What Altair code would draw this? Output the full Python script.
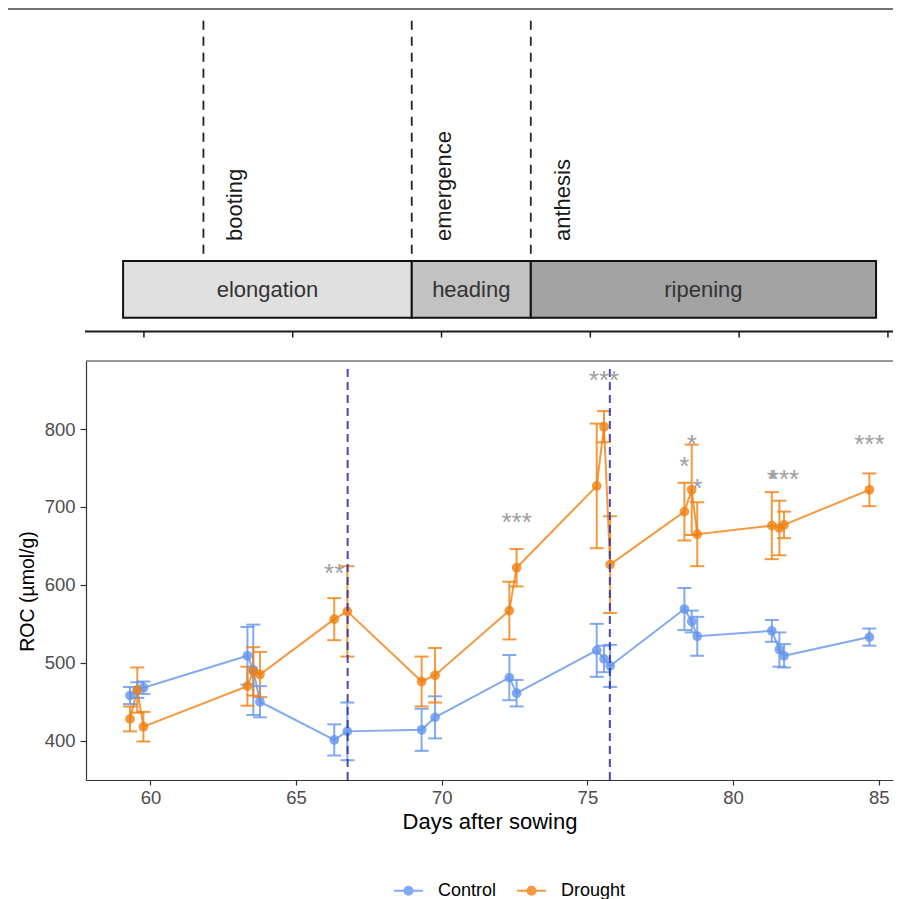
import altair as alt
import pandas as pd

# ---------------- data ----------------
days = [59.30, 59.55, 59.76, 63.33, 63.53, 63.76, 66.31, 66.76, 69.31, 69.77,
        72.32, 72.57, 75.32, 75.57, 75.78, 78.33, 78.58, 78.77, 81.33, 81.59, 81.75, 84.68]
control_mean = [458, 465, 468, 509, 491, 450, 401, 412, 414, 430, 481,
                461, 516, 505, 496, 569, 553, 534, 541, 517, 509, 533]
control_sd = [11, 10, 8, 37, 58, 20, 20, 37, 27, 27, 29,
              17, 34, 17, 27, 27, 14, 25, 14, 22, 15, 11]
drought_mean = [428, 465, 418, 470, 489, 485, 556, 566, 476, 484, 567,
                622, 727, 803, 626, 694, 722, 665, 676, 673, 677, 722]
drought_sd = [16, 29, 19, 25, 31, 29, 27, 58, 32, 35, 37,
              24, 80, 20, 62, 37, 58, 41, 43, 35, 17, 21]
treatments = ["Control", "Drought"]

sig_days = [66.31, 72.57, 75.57, 78.33, 78.58, 78.77, 81.33, 81.75, 84.68]
sig_labels = ["**", "***", "***", "*", "*", "*", "*", "***", "***"]
sig_values = [623, 689, 870, 760, 789, 732, 743, 743, 789]

marker_days = [66.77, 75.77]

stage_names = ["elongation", "heading", "ripening"]
stage_start = [59.3, 69.0, 73.0]
stage_end = [69.0, 73.0, 84.6]

event_names = ["booting", "emergence", "anthesis"]
event_days = [62.0, 69.0, 73.0]

top_ticks = [60, 65, 70, 75, 80, 85]
x_ticks = [60, 65, 70, 75, 80, 85]
y_ticks = [400, 500, 600, 700, 800]

# ---------------- styles ----------------
series_colors = ["#6495ED", "#F08010"]
stage_fills = ["#E0E0E0", "#C2C2C2", "#A3A3A3"]
FONT = "Liberation Sans"
W, H = 807, 772
SYMBOL = "M-1,0L1,0M0.28,0A0.28,0.28,0,1,1,-0.28,0A0.28,0.28,0,1,1,0.28,0Z"

rows = []
for t, means, sds in [("Control", control_mean, control_sd), ("Drought", drought_mean, drought_sd)]:
    for d, m, s in zip(days, means, sds):
        rows.append({"day": d, "mean": m, "lo": m - s, "hi": m + s, "Treatment": t})
df = pd.DataFrame(rows)
sig_df = pd.DataFrame({"day": sig_days, "label": sig_labels, "value": sig_values})
marker_df = pd.DataFrame({"day": marker_days})
stages = pd.DataFrame({"stage": stage_names, "start": stage_start, "end": stage_end})
events = pd.DataFrame({"event": event_names, "day": event_days})
ticks_df = pd.DataFrame({"tick": top_ticks})
one = pd.DataFrame({"k": [0]})

# ---------------- scales / axes ----------------
xb = alt.Scale(domain=[57.789, 85.49], nice=False, zero=False)
yb = alt.Scale(domain=[349.6, 887.3], nice=False, zero=False, range=[772, 353])
xt = alt.Scale(domain=[58.054, 85.17], nice=False, zero=False)
cs = alt.Scale(domain=treatments, range=series_colors)

x_axis = alt.Axis(values=x_ticks, title="Days after sowing", grid=False,
                  domainColor="#333333", domainWidth=1.2, tickColor="#333333",
                  tickWidth=1.2, tickSize=5, labelColor="#4D4D4D", labelFontSize=18.5,
                  labelPadding=3, labelFont=FONT, titleFont=FONT, titleFontSize=22,
                  titleFontWeight="normal", titleColor="black", titlePadding=5)
y_axis = alt.Axis(values=y_ticks, title="ROC (µmol/g)", grid=False,
                  domainColor="#333333", domainWidth=1.2, tickColor="#333333",
                  tickWidth=1.2, tickSize=6, labelColor="#4D4D4D", labelFontSize=18.5,
                  labelPadding=5, labelFont=FONT, titleFont=FONT, titleFontSize=19.5,
                  titleFontWeight="normal", titleColor="black",
                  titleX=-59, titleY=583, titleBaseline="middle", titleAlign="center")

legend = alt.Legend(title=None, orient="none", legendX=307, legendY=867,
                    direction="horizontal", symbolType=SYMBOL, symbolSize=841,
                    symbolStrokeWidth=2, symbolOpacity=0.8, labelFontSize=18,
                    labelColor="black", labelFont=FONT, labelOffset=14,
                    columnPadding=16)
color = alt.Color("Treatment:N", scale=cs, legend=legend)


def bx(f):
    return alt.X(f, scale=xb, axis=x_axis)


def by(f):
    return alt.Y(f, scale=yb, axis=y_axis)


def tx(f):
    return alt.X(f, scale=xt, axis=None)


# ---------------- bottom panel ----------------
lines = alt.Chart(df).mark_line(strokeWidth=2, opacity=0.8).encode(
    x=bx("day:Q"), y=by("mean:Q"), color=color, order="day:Q")
err = alt.Chart(df).mark_rule(strokeWidth=2, opacity=0.8).encode(
    x=bx("day:Q"), y=by("lo:Q"), y2="hi:Q", color=color)
caps = alt.Chart(df).transform_fold(["lo", "hi"], as_=["end", "val"]).mark_rule(
    strokeWidth=2, opacity=0.8, xOffset=-7, x2Offset=7).encode(
    x=bx("day:Q"), x2="day:Q", y=by("val:Q"), color=color)
points = alt.Chart(df).mark_point(filled=True, size=95, opacity=0.8).encode(
    x=bx("day:Q"), y=by("mean:Q"), color=color)
vlines = alt.Chart(marker_df).mark_rule(color="#3535A8", strokeDash=[8, 5], strokeWidth=2,
                                        opacity=0.9).encode(
    x=bx("day:Q"), y=alt.value(361), y2=alt.value(772))
sig = alt.Chart(sig_df).mark_text(fontSize=26, color="#9E9E9E", baseline="alphabetic",
                                  dy=15, font=FONT).encode(
    x=bx("day:Q"), y=by("value:Q"), text="label:N")
border = alt.Chart(one).mark_rule(color="#333333", strokeWidth=1.2).encode(
    x=alt.value(0), x2=alt.value(W), y=alt.value(353))

bottom = alt.layer(lines, err, caps, points, vlines, sig, border)

# ---------------- top panel ----------------
top_line = alt.Chart(one).mark_rule(color="#444444", strokeWidth=1.5).encode(
    x=alt.value(-78), x2=alt.value(W), y=alt.value(1))
boxes = alt.Chart(stages).mark_rect(stroke="#111111", strokeWidth=2).encode(
    x=tx("start:Q"), x2="end:Q", y=alt.value(253), y2=alt.value(309.7),
    fill=alt.Fill("stage:N", scale=alt.Scale(domain=stage_names, range=stage_fills),
                  legend=None))
box_text = alt.Chart(stages).transform_calculate(mid="(datum.start + datum.end) / 2").mark_text(
    fontSize=22, color="#333333", baseline="middle", font=FONT).encode(
    x=tx("mid:Q"), y=alt.value(282), text="stage:N")
event_rules = alt.Chart(events).mark_rule(color="#222222", strokeDash=[9, 7],
                                         strokeWidth=1.8).encode(
    x=tx("day:Q"), y=alt.value(12.7), y2=alt.value(253))
event_text = alt.Chart(events).mark_text(angle=270, align="left", baseline="middle", dy=32,
                                         fontSize=22, color="#1A1A1A", font=FONT).encode(
    x=tx("day:Q"), y=alt.value(233), text="event:N")
top_axis = alt.Chart(one).mark_rule(color="#1A1A1A", strokeWidth=2.2).encode(
    x=alt.value(-1), x2=alt.value(W), y=alt.value(323.5))
top_tick_rules = alt.Chart(ticks_df).mark_rule(color="#1A1A1A", strokeWidth=1.5).encode(
    x=tx("tick:Q"), y=alt.value(323.5), y2=alt.value(329.5))

top = alt.layer(top_line, boxes, box_text, event_rules, event_text, top_axis, top_tick_rules)

chart = alt.layer(top, bottom).resolve_scale(x="independent").properties(
    width=W, height=H,
    padding={"left": 78, "top": 0, "right": 0, "bottom": 119},
    autosize=alt.AutoSizeParams(type="none"),
).configure(font=FONT).configure_view(strokeWidth=0)

chart.save("out.html", embed_options={"renderer": "svg", "actions": False})
